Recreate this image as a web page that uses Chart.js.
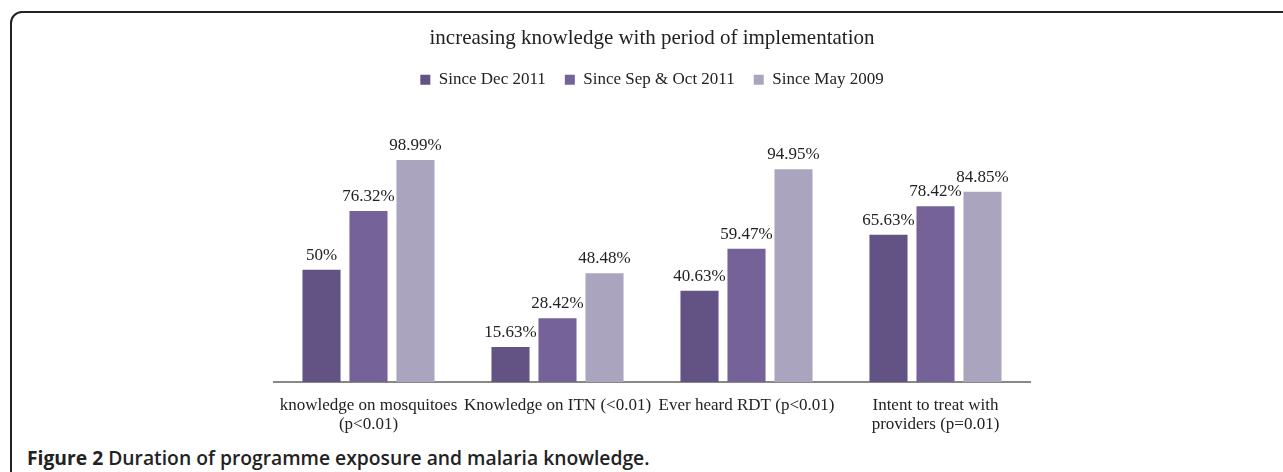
<!DOCTYPE html>
<html>
<head>
<meta charset="utf-8">
<script src="https://cdn.jsdelivr.net/npm/chart.js@4"></script>
<style>
  body { margin: 0; background: #fff; overflow: hidden; }
  #box {
    position: absolute; left: 10px; top: 11px; width: 1400px; height: 600px;
    border: 2px solid #222; border-top-left-radius: 12px;
  }
  #caption {
    position: absolute; left: 27px; top: 448px;
    font-family: "Open Sans", sans-serif; font-weight: 600; font-size: 19.3px; line-height: 19px;
    color: #222; white-space: nowrap;
  }
  #caption b { font-weight: 700; }
  #myChart { position: absolute; left: 0; top: 0; }
</style>
</head>
<body>
<div id="box"></div>
<canvas id="myChart" width="1283" height="440"></canvas>
<div id="caption"><b>Figure 2</b> Duration of programme exposure and malaria knowledge.</div>
<script>
var categorias = [
  ['knowledge on mosquitoes', '(p<0.01)'],
  'Knowledge on ITN (<0.01)',
  'Ever heard RDT (p<0.01)',
  ['Intent to treat with', 'providers (p=0.01)']
]
var series = ['Since Dec 2011', 'Since Sep & Oct 2011', 'Since May 2009']
var dez2011 = [50, 15.63, 40.63, 65.63]
var setout2011 = [76.32, 28.42, 59.47, 78.42]
var maio2009 = [98.99, 48.48, 94.95, 84.85]
var cores = ['#635284', '#756299', '#aba4bf']

var serif = '"Liberation Serif", serif'

// escreve o valor por cima de cada barra
var rotulos = {
  id: 'rotulos',
  afterDatasetsDraw: function(chart) {
    var ctx = chart.ctx
    ctx.save()
    ctx.font = '17px ' + serif
    ctx.fillStyle = '#222'
    ctx.textAlign = 'center'
    ctx.textBaseline = 'alphabetic'
    chart.data.datasets.forEach(function(ds, i) {
      chart.getDatasetMeta(i).data.forEach(function(bar, j) {
        var v = ds.data[j]
        var txt = (Number.isInteger(v) ? v : v.toFixed(2)) + '%'
        ctx.fillText(txt, bar.x, bar.y - 10)
      })
    })
    ctx.restore()
  }
}

var ctx = document.getElementById('myChart').getContext('2d')
var chart = new Chart(ctx, {
  type: 'bar',
  data: {
    labels: categorias,
    datasets: [
      { label: series[0], data: dez2011, backgroundColor: cores[0] },
      { label: series[1], data: setout2011, backgroundColor: cores[1] },
      { label: series[2], data: maio2009, backgroundColor: cores[2] }
    ]
  },
  options: {
    responsive: false,
    animation: false,
    devicePixelRatio: 1,
    layout: { padding: { left: 274, right: 253, top: 14, bottom: 0 } },
    datasets: { bar: { categoryPercentage: 0.746, barPercentage: 0.81 } },
    plugins: {
      title: {
        display: true,
        text: 'increasing knowledge with period of implementation',
        color: '#222',
        font: { family: serif, size: 21, weight: 'normal' },
        padding: { top: 12, bottom: 1 }
      },
      legend: {
        labels: {
          color: '#222',
          font: { family: serif, size: 17 },
          boxWidth: 10, boxHeight: 10,
          padding: 19
        }
      },
      tooltip: { enabled: false }
    },
    scales: {
      x: {
        grid: { display: false },
        border: { color: '#888', width: 2 },
        ticks: { color: '#222', font: { family: serif, size: 17, lineHeight: 1.12 }, padding: 6, maxRotation: 0, autoSkip: false }
      },
      y: { display: false, min: 0, max: 126.6 }
    }
  },
  plugins: [rotulos]
})
</script>
</body>
</html>
